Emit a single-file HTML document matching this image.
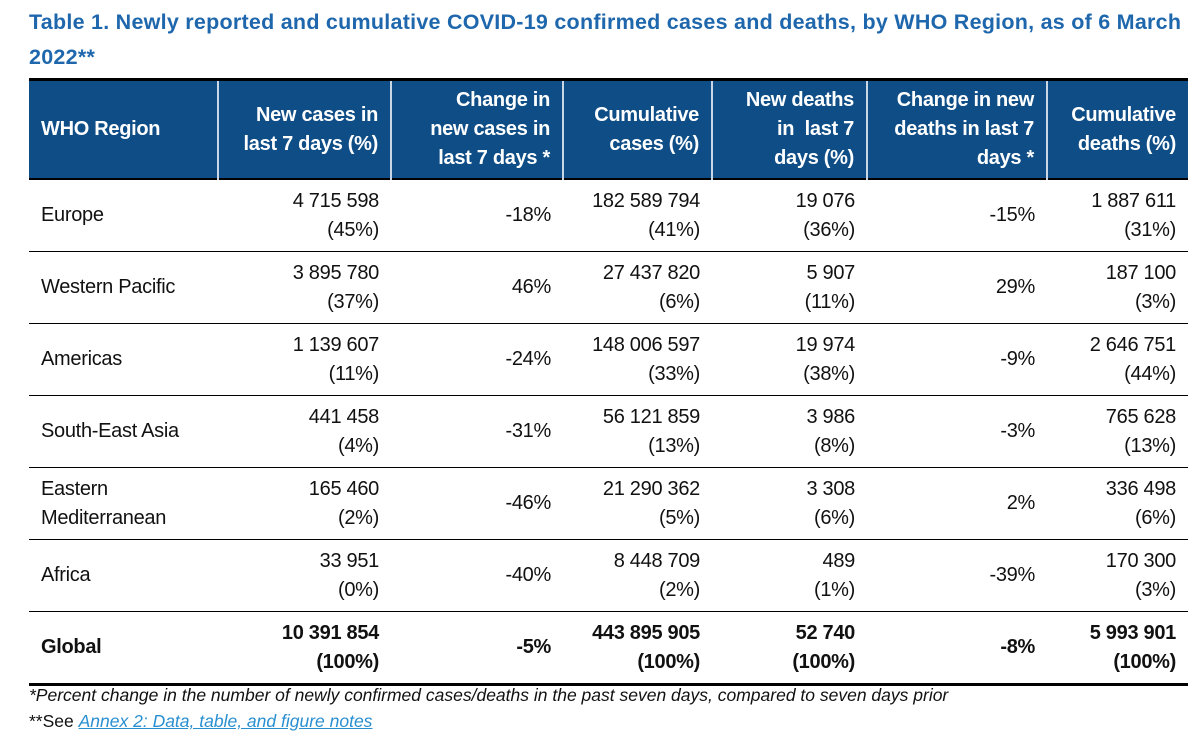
<!DOCTYPE html>
<html><head><meta charset="utf-8">
<style>
body{margin:0;width:1200px;height:749px;background:#fff;font-family:"Liberation Sans",sans-serif;position:relative;overflow:hidden}
.title{position:absolute;left:29px;top:5px;width:1170px;color:#1f67ad;font-weight:bold;font-size:21.5px;line-height:35px;letter-spacing:0.25px}
table{position:absolute;left:29px;top:78px;border-collapse:collapse;table-layout:fixed;width:1159px;font-size:20px;letter-spacing:-0.3px}
th{background:#0e4d86;color:#fff;font-weight:bold;height:97px;text-align:right;padding:0 12px;line-height:29px;border-left:2px solid #c9d6e6;vertical-align:middle;white-space:nowrap}
th:first-child{border-left:none;text-align:left}
thead tr{border-top:3px solid #000;border-bottom:2px solid #000}
td{height:71px;text-align:right;padding:0 12px;line-height:29px;color:#111;vertical-align:middle}
td:first-child{text-align:left}
tbody tr{border-bottom:1.5px solid #000}
tr.g td{font-weight:bold}
tr.g{border-bottom:3px solid #000}
.foot{position:absolute;left:29px;font-size:17.5px;color:#111}
a{color:#2a8fd0}
</style></head><body>
<div class="title">Table 1. Newly reported and cumulative COVID-19 confirmed cases and deaths, by WHO Region, as of 6 March<br>2022**</div>
<table>
<colgroup><col style="width:189px"><col style="width:173px"><col style="width:172px"><col style="width:149px"><col style="width:155px"><col style="width:180px"><col style="width:141px"></colgroup>
<thead><tr>
<th>WHO Region</th>
<th>New cases in<br>last 7 days (%)</th>
<th>Change in<br>new cases in<br>last 7 days *</th>
<th>Cumulative<br>cases (%)</th>
<th>New deaths<br>in&nbsp; last 7<br>days (%)</th>
<th>Change in new<br>deaths in last 7<br>days *</th>
<th>Cumulative<br>deaths (%)</th>
</tr></thead>
<tbody>
<tr><td>Europe</td><td>4 715 598<br>(45%)</td><td>-18%</td><td>182 589 794<br>(41%)</td><td>19 076<br>(36%)</td><td>-15%</td><td>1 887 611<br>(31%)</td></tr>
<tr><td>Western Pacific</td><td>3 895 780<br>(37%)</td><td>46%</td><td>27 437 820<br>(6%)</td><td>5 907<br>(11%)</td><td>29%</td><td>187 100<br>(3%)</td></tr>
<tr><td>Americas</td><td>1 139 607<br>(11%)</td><td>-24%</td><td>148 006 597<br>(33%)</td><td>19 974<br>(38%)</td><td>-9%</td><td>2 646 751<br>(44%)</td></tr>
<tr><td>South-East Asia</td><td>441 458<br>(4%)</td><td>-31%</td><td>56 121 859<br>(13%)</td><td>3 986<br>(8%)</td><td>-3%</td><td>765 628<br>(13%)</td></tr>
<tr><td>Eastern<br>Mediterranean</td><td>165 460<br>(2%)</td><td>-46%</td><td>21 290 362<br>(5%)</td><td>3 308<br>(6%)</td><td>2%</td><td>336 498<br>(6%)</td></tr>
<tr><td>Africa</td><td>33 951<br>(0%)</td><td>-40%</td><td>8 448 709<br>(2%)</td><td>489<br>(1%)</td><td>-39%</td><td>170 300<br>(3%)</td></tr>
<tr class="g"><td>Global</td><td>10 391 854<br>(100%)</td><td>-5%</td><td>443 895 905<br>(100%)</td><td>52 740<br>(100%)</td><td>-8%</td><td>5 993 901<br>(100%)</td></tr>
</tbody></table>
<div class="foot" style="top:685px;font-style:italic">*Percent change in the number of newly confirmed cases/deaths in the past seven days, compared to seven days prior</div>
<div class="foot" style="top:711px">**See <a href="#" style="font-style:italic">Annex 2: Data, table, and figure notes</a></div>
</body></html>
